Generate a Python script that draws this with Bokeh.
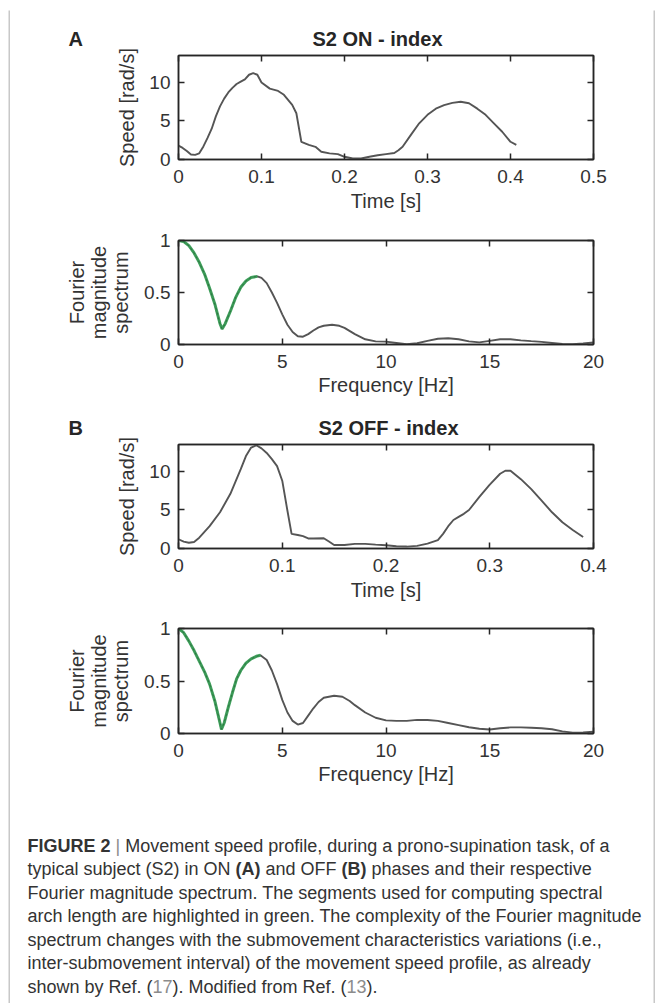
from bokeh.plotting import figure
from bokeh.layouts import column, row
from bokeh.models import Range1d, LinearAxis, FixedTicker, ColumnDataSource
from bokeh.core.properties import value
from bokeh.embed import file_html
from bokeh.resources import INLINE

# ---------------- data ----------------
time_on = [0, .005, .01, .015, .02, .025, .03, .035, .04, .045, .05, .055, .06, .065, .07, .075,
           .08, .085, .09, .095, .1, .11, .12, .127, .137, .142, .148, .157, .165, .172, .182,
           .192, .2, .21, .22, .23, .24, .25, .26, .265, .27, .28, .29, .3, .31, .32, .33, .34,
           .35, .36, .37, .38, .39, .4, .407]
speed_on = [1.8, 1.5, 1.1, .65, .6, .8, 1.7, 2.8, 4.0, 5.6, 6.9, 7.9, 8.7, 9.3, 9.8, 10.1,
            10.4, 11.0, 11.2, 11.0, 10.0, 9.2, 8.9, 8.4, 7.1, 6.0, 2.3, 1.9, 1.65, 1.0, 0.8,
            0.7, 0.35, 0.13, 0.13, 0.35, 0.55, 0.7, 0.85, 1.2, 1.65, 3.2, 4.7, 5.8, 6.6, 7.05,
            7.35, 7.5, 7.3, 6.6, 5.8, 4.7, 3.6, 2.3, 1.9]

freq_on = [0, 0.25, 0.5, 0.75, 1.0, 1.25, 1.5, 1.75, 2.0, 2.1, 2.25, 2.5, 2.75, 3.0, 3.25, 3.5,
           3.8, 4.0, 4.25, 4.5, 4.75, 5.0, 5.25, 5.5, 5.75, 6.0, 6.25, 6.5, 6.75, 7.0, 7.4, 7.75,
           8.0, 8.5, 9.0, 9.5, 10.0, 10.5, 11.0, 11.5, 12.0, 12.5, 13.0, 13.5, 14.0, 14.5, 15.0,
           15.5, 16.0, 16.5, 17.0, 17.5, 18.0, 18.5, 19.0, 19.5, 20.0]
spec_on = [1.0, .99, .95, .88, .79, .68, .54, .39, .2, .15, .2, .32, .45, .55, .61, .645,
           .655, .64, .59, .5, .4, .29, .19, .12, .08, .075, .1, .135, .165, .18, .19, .18,
           .16, .1, .05, .03, .028, .015, .002, .012, .035, .055, .06, .05, .03, .02, .035,
           .05, .05, .04, .032, .025, .015, .005, .003, .01, .02]
green_end_on = 3.8

time_off = [0, .005, .01, .015, .02, .03, .04, .05, .06, .065, .07, .075, .08, .085, .09, .095,
            .1, .105, .109, .115, .12, .125, .13, .14, .145, .15, .16, .17, .18, .19, .2, .21,
            .22, .23, .24, .25, .255, .26, .265, .27, .275, .28, .29, .3, .31, .315, .32, .33,
            .34, .35, .36, .37, .38, .39]
speed_off = [1.2, 0.9, 0.75, 0.85, 1.4, 2.9, 4.7, 7.1, 10.3, 12.0, 13.1, 13.4, 13.0, 12.4, 11.6,
             10.7, 8.8, 4.9, 1.9, 1.75, 1.6, 1.3, 1.3, 1.33, 0.9, 0.45, 0.45, 0.6, 0.6, 0.5,
             0.43, 0.3, 0.25, 0.34, 0.64, 1.1, 1.9, 2.9, 3.7, 4.1, 4.5, 5.0, 6.7, 8.3, 9.7,
             10.1, 10.1, 9.0, 7.7, 6.2, 4.7, 3.4, 2.4, 1.5]

freq_off = [0, 0.25, 0.5, 0.75, 1.0, 1.25, 1.5, 1.75, 2.0, 2.07, 2.2, 2.4, 2.6, 2.8, 3.0, 3.25,
            3.5, 3.75, 3.95, 4.25, 4.5, 4.75, 5.0, 5.25, 5.5, 5.75, 6.0, 6.25, 6.5, 6.75, 7.0,
            7.5, 7.9, 8.25, 8.5, 9.0, 9.5, 10.0, 10.5, 11.0, 11.5, 12.0, 12.5, 13.0, 13.5, 14.0,
            14.5, 15.0, 15.5, 16.0, 16.5, 17.0, 17.5, 18.0, 18.5, 19.0, 19.5, 20.0]
spec_off = [1.0, .96, .88, .79, .69, .59, .47, .31, .1, .04, .1, .25, .39, .52, .6, .67,
            .71, .735, .745, .7, .6, .47, .32, .2, .12, .085, .1, .17, .24, .3, .34,
            .36, .35, .31, .27, .2, .15, .125, .12, .12, .13, .128, .12, .1, .08, .06,
            .045, .038, .05, .058, .058, .055, .05, .04, .02, .008, .01, .018]
green_end_off = 3.95

ticks_time_on = [0, 0.1, 0.2, 0.3, 0.4, 0.5]
labels_time_on = ["0", "0.1", "0.2", "0.3", "0.4", "0.5"]
ticks_time_off = [0, 0.1, 0.2, 0.3, 0.4]
labels_time_off = ["0", "0.1", "0.2", "0.3", "0.4"]
ticks_speed = [0, 5, 10]
labels_speed = ["0", "5", "10"]
ticks_freq = [0, 5, 10, 15, 20]
labels_freq = ["0", "5", "10", "15", "20"]
ticks_spec = [0, 0.5, 1]
labels_spec = ["0", "0.5", "1"]

caption_lines = [
    [("FIGURE 2", "b", "d"), (" | ", "r", "m"), ("Movement speed profile, during a prono-supination task, of a", "r", "d")],
    [("typical subject (S2) in ON ", "r", "d"), ("(A)", "b", "d"), (" and OFF ", "r", "d"), ("(B)", "b", "d"),
     (" phases and their respective", "r", "d")],
    [("Fourier magnitude spectrum. The segments used for computing spectral", "r", "d")],
    [("arch length are highlighted in green. The complexity of the Fourier magnitude", "r", "d")],
    [("spectrum changes with the submovement characteristics variations (i.e.,", "r", "d")],
    [("inter-submovement interval) of the movement speed profile, as already", "r", "d")],
    [("shown by Ref. (", "r", "d"), ("17", "r", "l"), ("). Modified from Ref. (", "r", "d"), ("13", "r", "l"),
     (").", "r", "d")],
]

# ---------------- style ----------------
FONT = "Liberation Sans"
INK = "#262626"
TXT = "#333333"
LINE = "#555555"
GREEN = "#36a055"
FRAME = "#c8c8c8"
W = 643
LEFT = 168
BOXW = 415
RIGHT = W - LEFT - BOXW

REG = dict(zip("abcdefghijklmnopqrstuvwxyz",
               [556, 556, 500, 556, 556, 278, 556, 556, 222, 222, 500, 222, 833, 556, 556, 556, 556,
                333, 500, 278, 556, 500, 722, 500, 500, 500]))
REG.update(dict(zip("ABCDEFGHIJKLMNOPQRSTUVWXYZ",
                    [667, 667, 722, 722, 667, 611, 778, 722, 278, 500, 667, 556, 833, 722, 778, 667,
                     778, 722, 667, 611, 722, 667, 944, 667, 667, 611])))
REG.update({" ": 278, ".": 278, ",": 278, "(": 333, ")": 333, "-": 333, "|": 260, ":": 278, ";": 278})
for d in "0123456789":
    REG[d] = 556
BOLD = {"F": 611, "I": 278, "G": 778, "U": 722, "R": 722, "E": 667, " ": 278, "2": 556,
        "(": 333, ")": 333, "A": 722, "B": 722}


def text_width(s, bold, size):
    tab = BOLD if bold else REG
    return sum(tab.get(c, 556) for c in s) / 1000.0 * size


def style_axis(ax, ticks, labels, show_labels, label_standoff=9):
    ax.ticker = FixedTicker(ticks=ticks)
    ax.major_label_overrides = {t: l for t, l in zip(ticks, labels)}
    ax.axis_line_color = INK
    ax.axis_line_width = 1.5
    ax.major_tick_in = 6
    ax.major_tick_out = 0
    ax.major_tick_line_color = INK
    ax.major_tick_line_width = 1.5
    ax.minor_tick_line_color = None
    ax.major_label_text_font = FONT
    if show_labels:
        ax.major_label_text_font_size = "19px"
        ax.major_label_text_color = TXT
        ax.major_label_standoff = label_standoff
    else:
        ax.major_label_text_font_size = "0px"
        ax.major_label_text_color = None
        ax.major_label_standoff = 0


def make_plot(height, top, bottom, xr, yr, xt, xl, yt, yl, xlabel, ylabel, ylab_standoff, xlab_standoff):
    p = figure(width=W, height=height, x_range=Range1d(*xr), y_range=Range1d(*yr),
               toolbar_location=None, output_backend="svg", frame_align=False,
               min_border_left=LEFT, min_border_right=RIGHT,
               min_border_top=top, min_border_bottom=bottom)
    p.grid.visible = False
    p.outline_line_color = INK
    p.outline_line_width = 1.5
    p.background_fill_color = "white"
    p.border_fill_color = "white"
    bx = p.xaxis[0]
    by = p.yaxis[0]
    style_axis(bx, xt, xl, True, 10)
    style_axis(by, yt, yl, True, 8)
    for ax, lab, so in ((bx, xlabel, xlab_standoff), (by, ylabel, ylab_standoff)):
        ax.axis_label = lab
        ax.axis_label_text_font = FONT
        ax.axis_label_text_font_size = "20px"
        ax.axis_label_text_font_style = "normal"
        ax.axis_label_text_color = TXT
        ax.axis_label_standoff = so
        ax.axis_label_text_line_height = 1.0
    ta = LinearAxis()
    style_axis(ta, xt, xl, False)
    p.add_layout(ta, "above")
    ra = LinearAxis()
    style_axis(ra, yt, yl, False)
    p.add_layout(ra, "right")
    return p


def add_speed(p, t, v):
    src = ColumnDataSource(dict(t=t, v=v))
    p.line("t", "v", source=src, line_color=LINE, line_width=1.9)


def add_spec(p, f, m, gend):
    src = ColumnDataSource(dict(f=f, m=m))
    p.line("f", "m", source=src, line_color=LINE, line_width=1.9)
    gf = [a for a in f if a <= gend]
    gm = [b for a, b in zip(f, m) if a <= gend]
    gsrc = ColumnDataSource(dict(f=gf, m=gm))
    p.line("f", "m", source=gsrc, line_color=GREEN, line_width=3.0, line_alpha=0.9)
    p.line("f", "m", source=gsrc, line_color="#2a5a35", line_width=1.0, line_dash="2 3", line_alpha=0.6)


def blank(width, height):
    p = figure(width=width, height=height, x_range=Range1d(0, width), y_range=Range1d(0, height),
               toolbar_location=None, output_backend="svg", frame_align=False,
               min_border=0, min_border_left=0, min_border_right=0, min_border_top=0, min_border_bottom=0,
               x_axis_location=None, y_axis_location=None)
    p.grid.visible = False
    p.outline_line_color = None
    return p


def header(height, letter, title, title_x, ycen):
    p = blank(W, height)
    p.text(x=[58], y=[ycen], text=[letter], text_font=value(FONT), text_font_style="bold",
           text_font_size="20px", text_baseline="middle", text_align="left", text_color=INK)
    p.text(x=[title_x], y=[ycen], text=[title], text_font=value(FONT), text_font_style="bold",
           text_font_size="20px", text_baseline="middle", text_align="center", text_color=INK)
    return p


def caption(height):
    p = blank(W, height)
    size = 18
    colors = {"d": "#333333", "m": "#8a8a8a", "l": "#8c8c8c"}
    xs, ys, txt, cols, sty = [], [], [], [], []
    for i, segs in enumerate(caption_lines):
        x = 17.0
        y = height - (45 + 23.5 * i)
        for s, w, c in segs:
            bold = (w == "b")
            lead = len(s) - len(s.lstrip(" "))
            core = s.strip(" ")
            x0 = x + text_width(" " * lead, bold, size)
            xs.append(x0)
            ys.append(y)
            txt.append(core)
            cols.append(colors[c])
            sty.append("bold" if bold else "normal")
            x += text_width(s, bold, size)
    src = ColumnDataSource(dict(x=xs, y=ys, t=txt, c=cols, s=sty))
    p.text("x", "y", text="t", source=src, text_color="c", text_font_style="s",
           text_font=value(FONT), text_font_size=f"{size}px", text_baseline="middle", text_align="left")
    return p


def bar(w, h):
    p = blank(w, h)
    p.background_fill_color = FRAME
    p.border_fill_color = FRAME
    return p


hdrA = header(38, "A", "S2 ON - index", 367, 10)
spA = make_plot(177, 7, 66, (0, 0.5), (0, 13.5), ticks_time_on, labels_time_on, ticks_speed, labels_speed,
                "Time [s]", "Speed [rad/s]", 8, 4)
add_speed(spA, time_on, speed_on)
fqA = make_plot(185, 15, 66, (0, 20), (0, 1), ticks_freq, labels_freq, ticks_spec, labels_spec,
                "Frequency [Hz]", "Fourier\nmagnitude\nspectrum", 9, 3)
add_spec(fqA, freq_on, spec_on, green_end_on)

hdrB = header(27, "B", "S2 OFF - index", 378, 10)
spB = make_plot(173, 7, 62, (0, 0.4), (0, 13.5), ticks_time_off, labels_time_off, ticks_speed, labels_speed,
                "Time [s]", "Speed [rad/s]", 8, 4)
add_speed(spB, time_off, speed_off)
fqB = make_plot(190, 18, 67, (0, 20), (0, 1), ticks_freq, labels_freq, ticks_spec, labels_spec,
                "Frequency [Hz]", "Fourier\nmagnitude\nspectrum", 9, 3)
add_spec(fqB, freq_off, spec_off, green_end_off)

cap = caption(203)

inner = column(hdrA, spA, fqA, hdrB, spB, fqB, cap, spacing=0)
H = 38 + 177 + 185 + 27 + 173 + 190 + 203
layout = column(bar(W + 4, 2), row(bar(2, H), inner, bar(2, H), spacing=0), spacing=0,
                margin=(8, 0, 0, 8))

open("out.html", "w").write(file_html(layout, INLINE))
